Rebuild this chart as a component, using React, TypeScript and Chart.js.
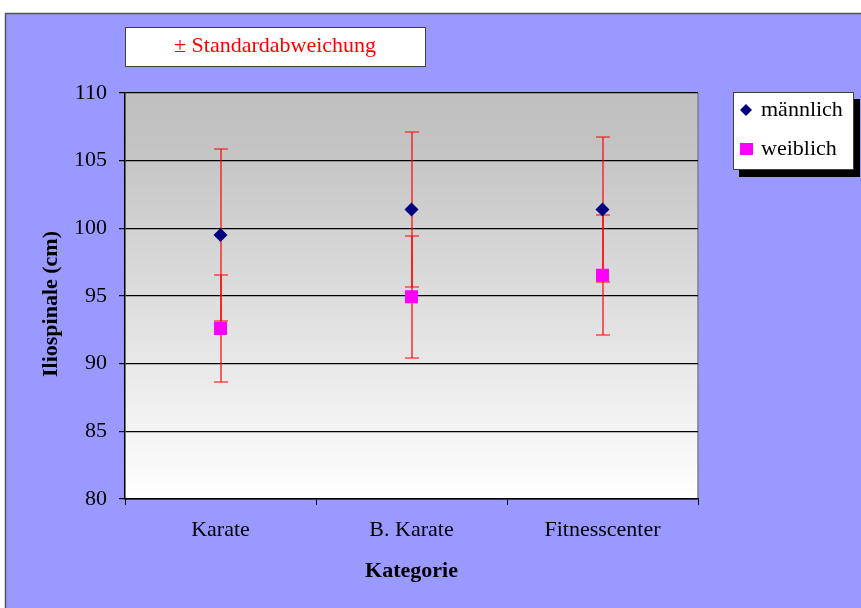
import React, { useEffect, useRef } from "react";
import { Chart, registerables } from "chart.js";

Chart.register(...registerables);

const categories = ["Karate", "B. Karate", "Fitnesscenter"];
const maleMean = [99.5, 101.4, 101.4];
const maleSD = [6.35, 5.75, 5.35];
const femaleMean = [92.6, 94.95, 96.53];
const femaleSD = [3.95, 4.52, 4.43];
const seriesNames = ["männlich", "weiblich"];
const yTicks = { min: 80, max: 110, step: 5 };
const titleText = "± Standardabweichung";
const xTitle = "Kategorie";
const yTitle = "Iliospinale (cm)";

const FONT = "'Liberation Serif', 'Times New Roman', serif";

export default function App() {
  const ref = useRef<HTMLCanvasElement | null>(null);

  useEffect(() => {
    const canvas = ref.current;
    if (!canvas) return;

    const framePlugin = {
      id: "frame",
      beforeDraw(chart: any) {
        const { ctx, chartArea } = chart;
        const W = chart.width, H = chart.height;
        ctx.save();
        ctx.fillStyle = "#ffffff";
        ctx.fillRect(0, 0, W, H);
        ctx.fillStyle = "#9999FF";
        ctx.fillRect(5, 13, W - 5, H - 13);
        ctx.strokeStyle = "#555555";
        ctx.lineWidth = 1.5;
        ctx.beginPath();
        ctx.moveTo(5.5, H);
        ctx.lineTo(5.5, 13.5);
        ctx.lineTo(W, 13.5);
        ctx.stroke();
        const g = ctx.createLinearGradient(0, chartArea.top, 0, chartArea.bottom);
        g.addColorStop(0, "#C0C0C0");
        g.addColorStop(0.12, "#C3C3C3");
        g.addColorStop(1, "#FFFFFF");
        ctx.fillStyle = g;
        ctx.fillRect(chartArea.left, chartArea.top, chartArea.right - chartArea.left, chartArea.bottom - chartArea.top);
        ctx.strokeStyle = "#808080";
        ctx.lineWidth = 1.5;
        ctx.beginPath();
        ctx.moveTo(chartArea.right, chartArea.top);
        ctx.lineTo(chartArea.right, chartArea.bottom);
        ctx.stroke();
        ctx.restore();
      },
    };

    const errorPlugin = {
      id: "errorbars",
      beforeDatasetsDraw(chart: any) {
        const { ctx } = chart;
        const y = chart.scales.y;
        const sds = [maleSD, femaleSD];
        ctx.save();
        chart.data.datasets.forEach((ds: any, di: number) => {
          const meta = chart.getDatasetMeta(di);
          meta.data.forEach((pt: any, i: number) => {
            const m = ds.data[i];
            const s = sds[di][i];
            const x = Math.round(pt.x);
            const yt = Math.round(y.getPixelForValue(m + s));
            const yb = Math.round(y.getPixelForValue(m - s));
            ctx.strokeStyle = "#FF0000";
            ctx.lineWidth = 1.2;
            ctx.beginPath();
            ctx.moveTo(x, yt);
            ctx.lineTo(x, yb);
            ctx.stroke();
            ctx.beginPath();
            ctx.moveTo(x - 7, yt);
            ctx.lineTo(x + 7, yt);
            ctx.moveTo(x - 7, yb);
            ctx.lineTo(x + 7, yb);
            ctx.stroke();
          });
        });
        ctx.restore();
      },
    };

    const annotPlugin = {
      id: "annot",
      afterDraw(chart: any) {
        const { ctx, chartArea } = chart;
        ctx.save();
        ctx.fillStyle = "#ffffff";
        ctx.fillRect(125, 27, 300, 39);
        ctx.strokeStyle = "#404040";
        ctx.lineWidth = 1;
        ctx.strokeRect(125.5, 27.5, 300, 39);
        ctx.fillStyle = "#FF0000";
        ctx.font = `22px ${FONT}`;
        ctx.textAlign = "center";
        ctx.textBaseline = "middle";
        ctx.fillText(titleText, 275, 46);

        ctx.fillStyle = "#000000";
        ctx.fillRect(739, 99, 121, 78);
        ctx.fillStyle = "#ffffff";
        ctx.fillRect(733, 92, 121, 78);
        ctx.strokeStyle = "#404040";
        ctx.strokeRect(733.5, 92.5, 120, 77);
        const ys = [110, 149];
        chart.data.datasets.forEach((ds: any, i: number) => {
          ctx.fillStyle = ds.pointBackgroundColor;
          if (ds.pointStyle === "rectRot") {
            ctx.beginPath();
            ctx.moveTo(746 - 6, ys[i]);
            ctx.lineTo(746, ys[i] - 6);
            ctx.lineTo(746 + 6, ys[i]);
            ctx.lineTo(746, ys[i] + 6);
            ctx.closePath();
            ctx.fill();
          } else {
            ctx.fillRect(740, ys[i] - 6, 13, 12);
          }
          ctx.fillStyle = "#000000";
          ctx.font = `22px ${FONT}`;
          ctx.textAlign = "left";
          ctx.textBaseline = "middle";
          ctx.fillText(ds.label, 761, ys[i]);
        });

        ctx.fillStyle = "#000000";
        ctx.font = `bold 22px ${FONT}`;
        ctx.textAlign = "center";
        ctx.textBaseline = "middle";
        ctx.fillText(xTitle, (chartArea.left + chartArea.right) / 2, 571);
        ctx.translate(51, 304);
        ctx.rotate(-Math.PI / 2);
        ctx.fillText(yTitle, 0, 0);
        ctx.restore();
      },
    };

    const chart = new Chart(canvas, {
      type: "line",
      data: {
        labels: categories,
        datasets: [
          {
            label: seriesNames[0],
            data: maleMean,
            showLine: false,
            pointStyle: "rectRot",
            pointRadius: 7,
            pointBackgroundColor: "#000080",
            pointBorderColor: "#000080",
            pointBorderWidth: 0,
            borderColor: "#000080",
            backgroundColor: "#000080",
          },
          {
            label: seriesNames[1],
            data: femaleMean,
            showLine: false,
            pointStyle: "rect",
            pointRadius: 9.2,
            pointBackgroundColor: "#FF00FF",
            pointBorderColor: "#FF00FF",
            pointBorderWidth: 0,
            borderColor: "#FF00FF",
            backgroundColor: "#FF00FF",
          },
        ],
      },
      options: {
        animation: false,
        responsive: false,
        devicePixelRatio: 1,
        layout: { padding: { left: 0, top: 93, right: 163, bottom: 0 } },
        plugins: { legend: { display: false }, tooltip: { enabled: false }, title: { display: false } },
        scales: {
          x: {
            type: "category",
            offset: true,
            afterFit(scale: any) {
              scale.height = 109;
            },
            grid: {
              display: true,
              drawOnChartArea: false,
              offset: true,
              drawTicks: true,
              tickLength: 6,
              color: "#000000",
              lineWidth: 1,
            },
            border: { display: true, color: "#000000", width: 1.5 },
            ticks: { color: "#000000", font: { family: FONT, size: 22 }, padding: 12, maxRotation: 0 },
          },
          y: {
            min: yTicks.min,
            max: yTicks.max,
            afterFit(scale: any) {
              scale.width = 125;
            },
            ticks: { stepSize: yTicks.step, color: "#000000", font: { family: FONT, size: 22 }, padding: 12 },
            grid: { color: "#000000", lineWidth: 1.2, tickLength: 6, drawTicks: true },
            border: { display: true, color: "#000000", width: 1.5 },
          },
        },
      },
      plugins: [framePlugin, errorPlugin, annotPlugin],
    } as any);

    return () => chart.destroy();
  }, []);

  return (
    <div style={{ position: "fixed", left: 0, top: 0, width: 861, height: 608 }}>
      <canvas ref={ref} width={861} height={608} style={{ width: 861, height: 608, display: "block" }} />
    </div>
  );
}
